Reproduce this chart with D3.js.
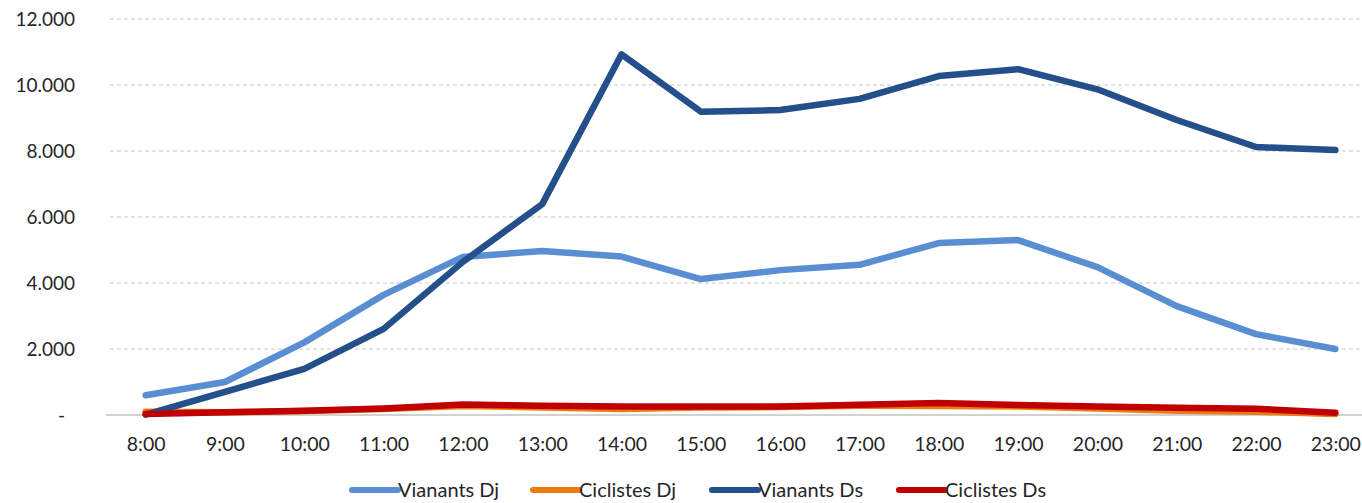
<!DOCTYPE html>
<html>
<head>
<meta charset="utf-8">
<script src="https://cdn.jsdelivr.net/npm/d3@7"></script>
<style>
  html, body { margin: 0; padding: 0; background: #fff; }
  svg { display: block; font-family: Lato, "Open Sans", sans-serif; }
</style>
</head>
<body>
<svg id="chart" width="1362" height="503"></svg>
<script>
const hours = ["8:00","9:00","10:00","11:00","12:00","13:00","14:00","15:00","16:00","17:00","18:00","19:00","20:00","21:00","22:00","23:00"];
const vianantsDj = [600, 1000, 2200, 3640, 4790, 4970, 4800, 4120, 4390, 4550, 5210, 5300, 4480, 3300, 2450, 2000];
const ciclistesDj = [100, 80, 120, 180, 270, 230, 180, 230, 240, 280, 270, 260, 200, 130, 100, 30];
const vianantsDs = [10, 700, 1400, 2610, 4640, 6390, 10930, 9190, 9240, 9580, 10270, 10480, 9870, 8940, 8120, 8030];
const ciclistesDs = [30, 80, 130, 200, 320, 280, 260, 260, 260, 310, 360, 300, 260, 220, 190, 70];
const yTicks = [0, 2000, 4000, 6000, 8000, 10000, 12000];

const seriesNames = ["Vianants Dj", "Ciclistes Dj", "Vianants Ds", "Ciclistes Ds"];
const seriesColors = ["#598ED3", "#EE7A12", "#234F8A", "#C00000"];
const seriesData = [vianantsDj, ciclistesDj, vianantsDs, ciclistesDs];

const svg = d3.select("#chart");
const x = d3.scalePoint().domain(hours).range([106, 1375]).padding(0.5);
const y = d3.scaleLinear().domain([0, 12000]).range([415, 19]);

const loc = d3.formatLocale({decimal: ",", thousands: ".", grouping: [3], currency: ["", ""]});
const fmt = loc.format(",.0f");

// gridlines
svg.append("g").selectAll("line").data(yTicks.filter(d => d > 0)).join("line")
  .attr("x1", 110).attr("x2", 1362)
  .attr("y1", d => y(d)).attr("y2", d => y(d))
  .attr("stroke", "#c8c8c8").attr("stroke-width", 1).attr("stroke-dasharray", "4,3");

// y axis labels
const yAxis = d3.axisLeft(y).tickValues(yTicks).tickSize(0).tickPadding(0)
  .tickFormat(d => d === 0 ? "-" : fmt(d));
const gy = svg.append("g").attr("transform", "translate(75,0)").call(yAxis);
gy.select(".domain").remove();
gy.selectAll("text").attr("font-size", 19).attr("fill", "#262626").attr("font-family", "Lato, 'Open Sans', sans-serif")
  .attr("dx", d => d === 0 ? -10 : 0);

// x axis
const xAxis = d3.axisBottom(x).tickSize(0).tickPadding(22);
const gx = svg.append("g").attr("transform", "translate(0," + y(0) + ")").call(xAxis);
gx.select(".domain").remove();
gx.selectAll("text").attr("font-size", 19.5).attr("fill", "#262626").attr("font-family", "Lato, 'Open Sans', sans-serif");
svg.append("line").attr("x1", 106).attr("x2", 1362).attr("y1", y(0)).attr("y2", y(0))
  .attr("stroke", "#a6a6a6").attr("stroke-width", 1.2);

// lines
const line = d3.line().x((d, i) => x(hours[i])).y(d => y(d));
svg.append("g").selectAll("path").data(seriesData).join("path")
  .attr("d", d => line(d))
  .attr("fill", "none")
  .attr("stroke", (d, i) => seriesColors[i])
  .attr("stroke-width", 6.5)
  .attr("stroke-linejoin", "round")
  .attr("stroke-linecap", "round");

// legend
const legendX = [350, 531, 710, 897];
const lg = svg.append("g").selectAll("g").data(seriesNames).join("g")
  .attr("transform", (d, i) => "translate(" + legendX[i] + ",490)");
lg.append("line").attr("x1", 2).attr("x2", 48).attr("y1", 0).attr("y2", 0)
  .attr("stroke", (d, i) => seriesColors[i]).attr("stroke-width", 6).attr("stroke-linecap", "round");
lg.append("text").attr("x", 48).attr("y", 0).attr("dy", "0.35em")
  .attr("font-size", 20).attr("fill", "#262626").text(d => d);
</script>
</body>
</html>
